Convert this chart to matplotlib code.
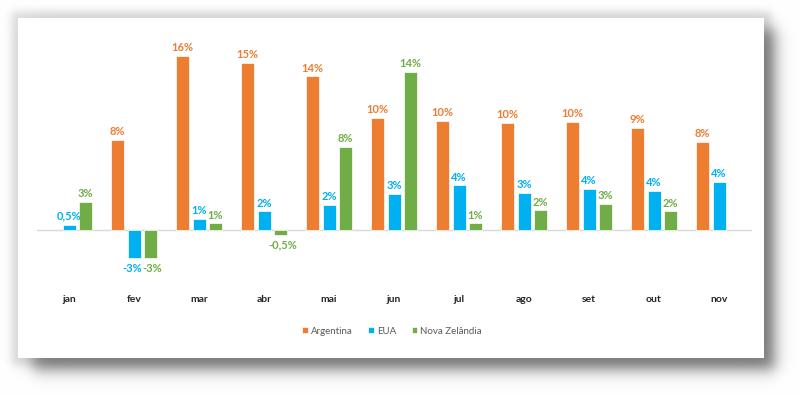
import numpy as np
import matplotlib
matplotlib.use("Agg")
import matplotlib.pyplot as plt
from matplotlib.patches import Rectangle

months = ["jan", "fev", "mar", "abr", "mai", "jun", "jul", "ago", "set", "out", "nov"]
series_names = ["Argentina", "EUA", "Nova Zelândia"]
argentina = [np.nan, 8.3, 16.0, 15.3, 14.1, 10.3, 10.0, 9.8, 9.9, 9.4, 8.1]
eua = [0.5, -2.6, 1.0, 1.7, 2.3, 3.3, 4.1, 3.4, 3.8, 3.6, 4.4]
nova_zelandia = [2.6, -2.6, 0.6, -0.5, 7.6, 14.5, 0.6, 1.8, 2.4, 1.7, np.nan]
argentina_labels = ["", "8%", "16%", "15%", "14%", "10%", "10%", "10%", "10%", "9%", "8%"]
eua_labels = ["0,5%", "-3%", "1%", "2%", "2%", "3%", "4%", "3%", "4%", "4%", "4%"]
nz_labels = ["3%", "-3%", "1%", "-0,5%", "8%", "14%", "1%", "2%", "3%", "2%", ""]
colors = ["#ED7D31", "#00B0F0", "#70AD47"]

plt.rcParams['font.family'] = ['Lato', 'DejaVu Sans']

W, H = 800, 395
fig = plt.figure(figsize=(W / 100, H / 100), dpi=100)

# soft drop shadow behind the white panel
yy, xx = np.mgrid[0:H, 0:W]


def soft(a, lo, hi, s):
    return 0.25 * (1 + np.tanh((a - lo) / s)) * (1 - np.tanh((a - hi) / s))


glow = 0.14 * soft(xx, 11, 771, 5) * soft(yy, 11, 365, 5)
drop = 0.45 * soft(xx, 32, 775, 9) * soft(yy, 28, 370, 9)
alpha = 1 - (1 - glow) * (1 - drop)
shade = 1 - alpha
img = np.dstack([shade, shade, shade])
fig.figimage(img, 0, 0, origin="upper", zorder=-2)
fig.patches.append(Rectangle((18 / W, 1 - 358 / H), (764 - 18) / W, (358 - 18) / H,
                             transform=fig.transFigure, facecolor="white",
                             edgecolor="none", zorder=-1))

# plot area
ylo, yhi = -5, 17
px_per = 10.9
bottom_px = 230 + (-ylo) * px_per
top_px = 230 - yhi * px_per
ax = fig.add_axes([36.5 / W, 1 - bottom_px / H, (751.5 - 36.5) / W, (bottom_px - top_px) / H])
ax.patch.set_alpha(0)
ax.set_xlim(-0.5, len(months) - 0.5)
ax.set_ylim(ylo, yhi)
for s in ax.spines.values():
    s.set_visible(False)
ax.set_xticks([])
ax.set_yticks([])
ax.axhline(0, color="#d9d9d9", lw=1, zorder=1)

x = np.arange(len(months))
width = 0.2
offsets = [-0.25, 0, 0.25]
nudge = [0, -1.5, 1.5]
all_vals = [argentina, eua, nova_zelandia]
all_labels = [argentina_labels, eua_labels, nz_labels]
for vals, labs, off, col, name, dx in zip(all_vals, all_labels, offsets, colors,
                                          series_names, nudge):
    bars = ax.bar(x + off, vals, width, color=col, edgecolor="white", lw=0.5,
                  label=name, zorder=2)
    for b, v, lab in zip(bars, vals, labs):
        if np.isnan(v) or not lab:
            continue
        if v >= 0:
            ax.annotate(lab, (b.get_x() + b.get_width() / 2, v), xytext=(0, 2),
                        textcoords="offset points", ha="center", va="bottom",
                        color=col, fontsize=8, fontweight="bold")
        else:
            ax.annotate(lab, (b.get_x() + b.get_width() / 2, v), xytext=(dx, -3),
                        textcoords="offset points", ha="center", va="top",
                        color=col, fontsize=8, fontweight="bold")

# month labels
for i, m in enumerate(months):
    ax.text(i, ylo - (300 - bottom_px) / px_per, m, ha="center", va="center",
            fontsize=7.5, fontweight="bold", color="#262626")

leg = fig.legend(loc="center", bbox_to_anchor=(392 / W, 1 - 331 / H), ncol=3,
                 frameon=False, fontsize=7, handlelength=0.6, handleheight=0.6,
                 handletextpad=0.3, columnspacing=1.6)
for t in leg.get_texts():
    t.set_color("#595959")

fig.savefig("out.png", dpi=100)
